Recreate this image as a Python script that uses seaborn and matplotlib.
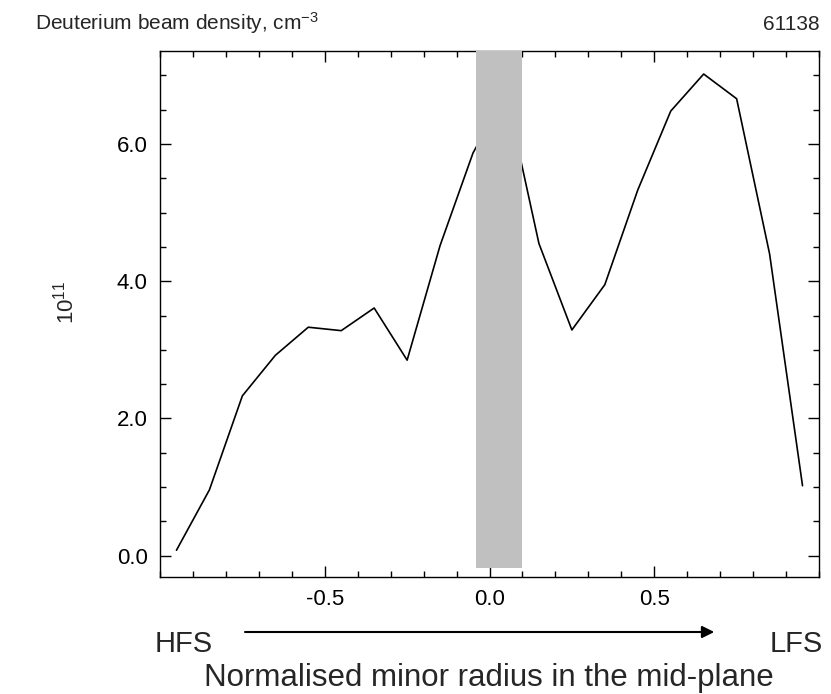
import matplotlib
matplotlib.use("Agg")
import matplotlib.pyplot as plt
from matplotlib.ticker import MultipleLocator, FormatStrFormatter
from matplotlib import font_manager
import seaborn as sns
import pandas as pd

# Data
radius = [-0.95, -0.85, -0.75, -0.65, -0.55, -0.45, -0.35, -0.25, -0.15, -0.05,
          0.05, 0.15, 0.25, 0.35, 0.45, 0.55, 0.65, 0.75, 0.85, 0.95]
density = [0.08, 0.96, 2.33, 2.92, 3.33, 3.28, 3.61, 2.85, 4.52, 5.87,
           6.75, 4.55, 3.29, 3.95, 5.33, 6.48, 7.02, 6.66, 4.40, 1.02]
band_range = [-0.042, 0.098]
x_ticks = [-0.5, 0.0, 0.5]
y_ticks = [0.0, 2.0, 4.0, 6.0]

title_text = "Deuterium beam density, cm$^{-3}$"
shot_text = "61138"
y_label = "10$^{11}$"
x_label = "Normalised minor radius in the mid-plane"

sns.set_style("ticks")
plt.rcParams['font.family'] = ['Liberation Sans', 'DejaVu Sans']
plt.rcParams['mathtext.fontset'] = 'custom'
plt.rcParams['mathtext.rm'] = 'Liberation Sans'
plt.rcParams['mathtext.it'] = 'Liberation Sans'

names = {f.name for f in font_manager.fontManager.ttflist}
narrow = 'Liberation Sans Narrow' if 'Liberation Sans Narrow' in names else None
if narrow:
    title_family = [narrow, 'Liberation Sans']
    title_size = 17
else:
    title_family = ['Liberation Sans']
    title_size = 15

df = pd.DataFrame({"r": radius, "n": density})

fig = plt.figure(figsize=(8.31, 6.94), dpi=100)
ax = fig.add_axes([160/831, (694-576.7)/694, (819-160)/831, (576.7-50.7)/694])

sns.lineplot(data=df, x="r", y="n", color="black", lw=1.2, ax=ax, zorder=2)
ax.axvspan(band_range[0], band_range[1], ymin=0.016, ymax=1.0,
           color="#c0c0c0", lw=0, zorder=3)

ax.set_xlim(-1.0, 1.0)
ax.set_ylim(-0.306, 7.36)
ax.set_xticks(x_ticks)
ax.set_yticks(y_ticks)
ax.xaxis.set_major_formatter(FormatStrFormatter('%.1f'))
ax.yaxis.set_major_formatter(FormatStrFormatter('%.1f'))
ax.xaxis.set_minor_locator(MultipleLocator(0.1))
ax.yaxis.set_minor_locator(MultipleLocator(0.5))
ax.tick_params(which='both', direction='in', top=True, right=True,
               colors='black', width=1.0, labelsize=16)
ax.tick_params(which='major', length=8, pad=9)
ax.tick_params(which='minor', length=4)
for s in ax.spines.values():
    s.set_visible(True)
    s.set_color('black')
    s.set_linewidth(1.0)
ax.set_xlabel("")
ax.set_ylabel("")

mt = {'mathtext.rm': title_family[0], 'mathtext.it': title_family[0]}
with plt.rc_context(mt):
    fig.text(35/831, (694-30)/694, title_text, fontsize=title_size,
             family=title_family, ha='left', va='baseline')
fig.text(820/831, (694-30)/694, shot_text, fontsize=title_size,
         family=title_family, ha='right', va='baseline')
fig.text(66/831, (694-302)/694, y_label, fontsize=16, rotation=90,
         ha='center', va='center')

fig.text(155/831, (694-652)/694, "HFS", fontsize=21, ha='left', va='baseline')
fig.text(823/831, (694-652)/694, "LFS", fontsize=21, ha='right', va='baseline')
fig.text(489/831, (694-686)/694, x_label, fontsize=22.5, ha='center', va='baseline')

arrow_y = (576.7 - 632) / 526.0
ax.annotate("", xy=(0.682, arrow_y), xytext=(-0.742, arrow_y),
            xycoords=('data', 'axes fraction'), textcoords=('data', 'axes fraction'),
            arrowprops=dict(arrowstyle='-|>', color='black', lw=1.5,
                            mutation_scale=18, shrinkA=0, shrinkB=0),
            annotation_clip=False)

fig.savefig("out.png", dpi=100)
